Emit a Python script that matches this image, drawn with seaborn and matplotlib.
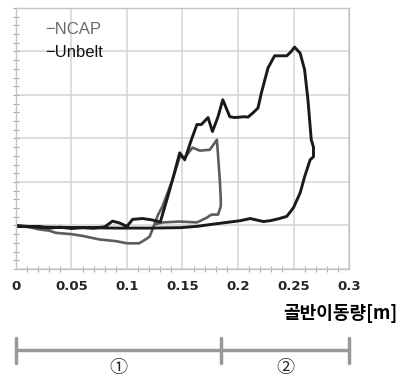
import matplotlib
matplotlib.use('Agg')
import matplotlib.pyplot as plt
import matplotlib.transforms as mtransforms
import numpy as np
import pandas as pd
import seaborn as sns

# pelvis displacement [m] vs load (no y labels in the original)
ncap_x = [0, 0.01, 0.021, 0.03, 0.036, 0.05, 0.06, 0.075, 0.09, 0.1, 0.111, 0.118, 0.1205,
          0.124, 0.128, 0.132, 0.141, 0.1475, 0.152, 0.159, 0.1656, 0.1746, 0.181,
          0.1836, 0.1845, 0.1845, 0.182, 0.176, 0.172, 0.163, 0.1475, 0.132, 0.126]
ncap_y = [0, -0.03, -0.09, -0.12, -0.17, -0.2, -0.24, -0.32, -0.36, -0.41, -0.41, -0.3, -0.25,
          -0.02, 0.25, 0.44, 1.05, 1.58, 1.56, 1.79, 1.72, 1.74, 1.97,
          1.05, 0.6, 0.44, 0.25, 0.25, 0.18, 0.07, 0.09, 0.07, 0.03]

unbelt_x = [0, 0.01, 0.02, 0.03, 0.04, 0.05, 0.06, 0.07, 0.08, 0.087, 0.093, 0.1, 0.105,
            0.114, 0.122, 0.13, 0.136, 0.141, 0.1475, 0.152, 0.158, 0.163, 0.167, 0.173,
            0.177, 0.182, 0.1863, 0.1926, 0.197, 0.206, 0.209, 0.214, 0.218, 0.221,
            0.227, 0.233, 0.24, 0.244, 0.248, 0.251, 0.256, 0.26, 0.263, 0.266, 0.268,
            0.268, 0.265, 0.26, 0.256, 0.25, 0.244, 0.236, 0.229, 0.223, 0.216, 0.211,
            0.202, 0.1746, 0.163, 0.148, 0.12, 0.09, 0.06, 0.03, 0]
unbelt_y = [0, -0.02, -0.03, -0.06, -0.04, -0.07, -0.05, -0.06, -0.03, 0.1, 0.06, -0.02, 0.14,
            0.16, 0.13, 0.08, 0.6, 1.05, 1.67, 1.51, 1.97, 2.32, 2.32, 2.48,
            2.16, 2.5, 2.89, 2.5, 2.48, 2.5, 2.49, 2.6, 2.7, 3.04,
            3.62, 3.9, 3.9, 3.9, 4.0, 4.1, 3.96, 3.58, 2.89, 1.97, 1.8,
            1.58, 1.51, 1.12, 0.75, 0.41, 0.21, 0.15, 0.11, 0.09, 0.13, 0.16,
            0.11, 0.02, -0.02, -0.05, -0.06, -0.06, -0.05, -0.04, -0.02]

x_ticks = [0, 0.05, 0.1, 0.15, 0.2, 0.25, 0.3]
tick_labels = ['0', '0.05', '0.1', '0.15', '0.2', '0.25', '0.3']
phase_bounds = [0, 0.185, 0.3]
phase_labels = ['①', '②']

ncap = pd.DataFrame({'x': ncap_x, 'y': ncap_y, 'case': 'NCAP'})
unbelt = pd.DataFrame({'x': unbelt_x, 'y': unbelt_y, 'case': 'Unbelt'})

sns.set_style('white')
plt.rcParams['font.family'] = ['Noto Sans CJK KR', 'DejaVu Sans']

fig = plt.figure(figsize=(4.08, 3.78), dpi=100)
ax = fig.add_axes([0.0392, 0.2884, 0.8162, 0.6906])

sns.lineplot(data=ncap, x='x', y='y', sort=False, estimator=None, color='#5c5c5c',
             linewidth=1.9, ax=ax)
sns.lineplot(data=unbelt, x='x', y='y', sort=False, estimator=None, color='#1a1a1a',
             linewidth=2.1, ax=ax)

ax.set_xlim(0, 0.3)
ax.set_ylim(-1, 5)
ax.set_xticks(x_ticks)
ax.set_xticklabels(tick_labels, fontsize=9.5, fontweight='bold', family='DejaVu Sans')
ax.set_yticks(np.arange(-1, 5.01, 1))
ax.set_yticklabels([])
ax.set_xticks(np.arange(0, 0.3001, 0.01), minor=True)
ax.set_yticks(np.arange(-1, 5.001, 0.2), minor=True)
ax.grid(True, which='major', color='#d4d4d4', linewidth=1.1)
ax.tick_params(axis='both', which='both', direction='inout', color='#aaaaaa',
               length=4, width=0.8, bottom=True, left=True)
ax.tick_params(axis='x', which='major', length=0, pad=8)
ax.tick_params(axis='y', which='major', length=4)
for s in ax.spines.values():
    s.set_color('#c4c4c4')
    s.set_linewidth(1.0)
ax.set_xlabel('')
ax.set_ylabel('')

ax.text(0.088, 0.916, '−NCAP', transform=ax.transAxes, fontsize=12, color='#6a6a6a',
        family='Liberation Sans', va='center')
ax.text(0.088, 0.831, '−Unbelt', transform=ax.transAxes, fontsize=12, color='#111111',
        family='Liberation Sans', va='center')

fig.text(0.975, 0.17, '골반이동량[m]', ha='right', va='center', fontsize=13,
         fontweight='bold', color='black')

# phase bracket below the chart
tr = mtransforms.blended_transform_factory(ax.transData, fig.transFigure)
ax.plot([phase_bounds[0], phase_bounds[-1]], [0.074, 0.074], transform=tr, clip_on=False,
        color='#999999', linewidth=2.5)
for b in phase_bounds:
    ax.plot([b, b], [0.041, 0.106], transform=tr, clip_on=False, color='#999999',
            linewidth=2.5)
for i, lab in enumerate(phase_labels):
    mid = (phase_bounds[i] + phase_bounds[i + 1]) / 2
    ax.text(mid, 0.026, lab, transform=tr, ha='center', va='center', fontsize=13,
            color='#222222')

fig.savefig('out.png', dpi=100)
